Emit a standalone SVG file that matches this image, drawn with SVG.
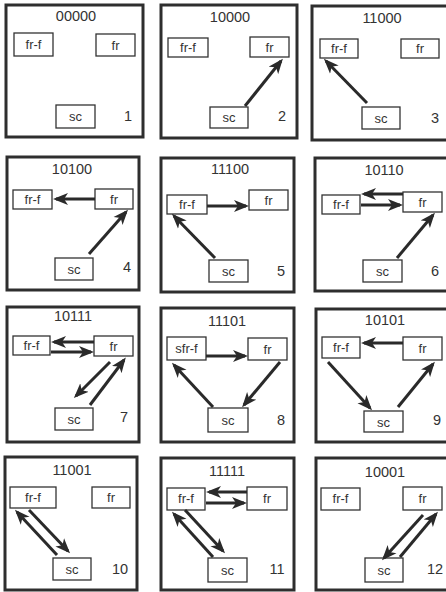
<svg xmlns="http://www.w3.org/2000/svg" width="446" height="592" viewBox="0 0 446 592">
<style>
.frame{fill:none;stroke:#2e2e2e;stroke-width:3}
.box{fill:#fff;stroke:#333;stroke-width:1.3}
.t{font-family:"Liberation Sans",Arial,sans-serif;font-size:14.5px;fill:#333;text-anchor:middle}
.l{font-family:"Liberation Sans",Arial,sans-serif;font-size:13px;fill:#333;text-anchor:middle}
.a{stroke:#2a2a2a;stroke-width:3;fill:none;marker-end:url(#ah)}
</style>
<defs>
<marker id="ah" markerUnits="userSpaceOnUse" markerWidth="16" markerHeight="13" refX="12" refY="6" orient="auto" viewBox="0 0 16 12">
<path d="M0,0 L15,6 L0,12 L4,6 z" fill="#2a2a2a"/>
</marker>
</defs>
<rect width="446" height="592" fill="#fff"/>
<g id="panel1">
<rect class="frame" x="6" y="5" width="137" height="132"/>
<text class="t" x="76" y="21">00000</text>
<g id="p1-frf"><rect class="box" x="14" y="33" width="39" height="23"/><text class="l" x="33.5" y="49">fr-f</text></g>
<g id="p1-fr"><rect class="box" x="96" y="34" width="39" height="22"/><text class="l" x="115.5" y="50">fr</text></g>
<g id="p1-sc"><rect class="box" x="56" y="105" width="39" height="23"/><text class="l" x="75.5" y="121">sc</text></g>
<text class="t" x="128" y="121">1</text>
</g>
<g id="panel2">
<rect class="frame" x="161" y="5" width="136" height="133"/>
<text class="t" x="230" y="22">10000</text>
<g id="p2-frf"><rect class="box" x="168" y="38" width="40" height="19"/><text class="l" x="188" y="52">fr-f</text></g>
<g id="p2-fr"><rect class="box" x="250" y="37" width="39" height="20"/><text class="l" x="269.5" y="52">fr</text></g>
<g id="p2-sc"><rect class="box" x="210" y="107" width="38" height="21"/><text class="l" x="229" y="122">sc</text></g>
<text class="t" x="282" y="121">2</text>
</g>
<g id="panel3">
<rect class="frame" x="312" y="6" width="137" height="134"/>
<text class="t" x="382" y="23">11000</text>
<g id="p3-frf"><rect class="box" x="320" y="39" width="38" height="19"/><text class="l" x="339" y="53">fr-f</text></g>
<g id="p3-fr"><rect class="box" x="401" y="39" width="38" height="19"/><text class="l" x="420" y="53">fr</text></g>
<g id="p3-sc"><rect class="box" x="362" y="107" width="38" height="22"/><text class="l" x="381" y="123">sc</text></g>
<text class="t" x="435" y="123">3</text>
</g>
<g id="panel4">
<rect class="frame" x="7" y="157" width="132" height="133"/>
<text class="t" x="72" y="174">10100</text>
<g id="p4-frf"><rect class="box" x="13" y="190" width="39" height="19"/><text class="l" x="32.5" y="204">fr-f</text></g>
<g id="p4-fr"><rect class="box" x="95" y="189" width="38" height="20"/><text class="l" x="114" y="204">fr</text></g>
<g id="p4-sc"><rect class="box" x="55" y="258" width="38" height="22"/><text class="l" x="74" y="274">sc</text></g>
<text class="t" x="127" y="272">4</text>
</g>
<g id="panel5">
<rect class="frame" x="161" y="158" width="133" height="134"/>
<text class="t" x="230" y="174">11100</text>
<g id="p5-frf"><rect class="box" x="167" y="195" width="40" height="19"/><text class="l" x="187" y="209">fr-f</text></g>
<g id="p5-fr"><rect class="box" x="249" y="190" width="39" height="20"/><text class="l" x="268.5" y="205">fr</text></g>
<g id="p5-sc"><rect class="box" x="209" y="260" width="39" height="22"/><text class="l" x="228.5" y="276">sc</text></g>
<text class="t" x="281" y="276">5</text>
</g>
<g id="panel6">
<rect class="frame" x="315" y="158" width="134" height="133"/>
<text class="t" x="384" y="175">10110</text>
<g id="p6-frf"><rect class="box" x="322" y="195" width="38" height="19"/><text class="l" x="341" y="209">fr-f</text></g>
<g id="p6-fr"><rect class="box" x="403" y="192" width="39" height="20"/><text class="l" x="422.5" y="207">fr</text></g>
<g id="p6-sc"><rect class="box" x="363" y="260" width="39" height="22"/><text class="l" x="382.5" y="276">sc</text></g>
<text class="t" x="435" y="276">6</text>
</g>
<g id="panel7">
<rect class="frame" x="7" y="307" width="132" height="135"/>
<text class="t" x="73" y="321">10111</text>
<g id="p7-frf"><rect class="box" x="13" y="336" width="37" height="19"/><text class="l" x="31.5" y="350">fr-f</text></g>
<g id="p7-fr"><rect class="box" x="94" y="336" width="39" height="20"/><text class="l" x="113.5" y="351">fr</text></g>
<g id="p7-sc"><rect class="box" x="55" y="408" width="38" height="22"/><text class="l" x="74" y="424">sc</text></g>
<text class="t" x="124" y="422">7</text>
</g>
<g id="panel8">
<rect class="frame" x="161" y="308" width="133" height="134"/>
<text class="t" x="227" y="326">11101</text>
<g id="p8-sfrf"><rect class="box" x="167" y="337" width="39" height="23"/><text class="l" x="186.5" y="353">sfr-f</text></g>
<g id="p8-fr"><rect class="box" x="248" y="338" width="39" height="22"/><text class="l" x="267.5" y="354">fr</text></g>
<g id="p8-sc"><rect class="box" x="208" y="408" width="40" height="24"/><text class="l" x="228" y="425">sc</text></g>
<text class="t" x="281" y="425">8</text>
</g>
<g id="panel9">
<rect class="frame" x="316" y="309" width="133" height="133"/>
<text class="t" x="385" y="325">10101</text>
<g id="p9-frf"><rect class="box" x="322" y="337" width="38" height="21"/><text class="l" x="341" y="352">fr-f</text></g>
<g id="p9-fr"><rect class="box" x="403" y="337" width="39" height="23"/><text class="l" x="422.5" y="353">fr</text></g>
<g id="p9-sc"><rect class="box" x="364" y="411" width="39" height="21"/><text class="l" x="383.5" y="427">sc</text></g>
<text class="t" x="437" y="425">9</text>
</g>
<g id="panel10">
<rect class="frame" x="5" y="457" width="132" height="133"/>
<text class="t" x="72" y="475">11001</text>
<g id="p10-frf"><rect class="box" x="10" y="487" width="46" height="21"/><text class="l" x="33" y="502">fr-f</text></g>
<g id="p10-fr"><rect class="box" x="92" y="487" width="38" height="21"/><text class="l" x="111" y="502">fr</text></g>
<g id="p10-sc"><rect class="box" x="53" y="558" width="38" height="22"/><text class="l" x="72" y="574">sc</text></g>
<text class="t" x="120" y="574">10</text>
</g>
<g id="panel11">
<rect class="frame" x="161" y="458" width="133" height="132"/>
<text class="t" x="227" y="476">11111</text>
<g id="p11-frf"><rect class="box" x="167" y="488" width="38" height="22"/><text class="l" x="186" y="503">fr-f</text></g>
<g id="p11-fr"><rect class="box" x="247" y="487" width="40" height="23"/><text class="l" x="267" y="503">fr</text></g>
<g id="p11-sc"><rect class="box" x="208" y="558" width="39" height="24"/><text class="l" x="227.5" y="575">sc</text></g>
<text class="t" x="277" y="574">11</text>
</g>
<g id="panel12">
<rect class="frame" x="316" y="458" width="133" height="132"/>
<text class="t" x="385" y="477">10001</text>
<g id="p12-frf"><rect class="box" x="321" y="488" width="39" height="22"/><text class="l" x="340.5" y="503">fr-f</text></g>
<g id="p12-fr"><rect class="box" x="403" y="487" width="39" height="23"/><text class="l" x="422.5" y="503">fr</text></g>
<g id="p12-sc"><rect class="box" x="365" y="558" width="38" height="24"/><text class="l" x="384" y="575">sc</text></g>
<text class="t" x="435" y="574">12</text>
</g>
<g id="connectors">
<line class="a" x1="245" y1="106" x2="281" y2="61"/>
<line class="a" x1="367" y1="103" x2="326" y2="61"/>
<line class="a" x1="95" y1="199" x2="56" y2="199"/>
<line class="a" x1="89" y1="254" x2="126" y2="212"/>
<line class="a" x1="207" y1="206" x2="246" y2="206"/>
<line class="a" x1="215" y1="258" x2="174" y2="216"/>
<line class="a" x1="403" y1="194" x2="364" y2="194"/>
<line class="a" x1="361" y1="205" x2="400" y2="205"/>
<line class="a" x1="397" y1="258" x2="433" y2="215"/>
<line class="a" x1="94" y1="342" x2="54" y2="342"/>
<line class="a" x1="51" y1="352" x2="91" y2="352"/>
<line class="a" x1="110" y1="362" x2="76" y2="396"/>
<line class="a" x1="90" y1="405" x2="124" y2="360"/>
<line class="a" x1="206" y1="356" x2="245" y2="356"/>
<line class="a" x1="280" y1="362" x2="244" y2="405"/>
<line class="a" x1="213" y1="407" x2="174" y2="365"/>
<line class="a" x1="403" y1="343" x2="364" y2="343"/>
<line class="a" x1="328" y1="362" x2="370" y2="408"/>
<line class="a" x1="398" y1="407" x2="433" y2="364"/>
<line class="a" x1="29" y1="510" x2="68" y2="551"/>
<line class="a" x1="57" y1="555" x2="17" y2="512"/>
<line class="a" x1="247" y1="492" x2="209" y2="492"/>
<line class="a" x1="206" y1="503" x2="244" y2="503"/>
<line class="a" x1="185" y1="510" x2="223" y2="551"/>
<line class="a" x1="213" y1="557" x2="174" y2="514"/>
<line class="a" x1="423" y1="515" x2="384" y2="558"/>
<line class="a" x1="400" y1="557" x2="436" y2="514"/>
</g>
</svg>
